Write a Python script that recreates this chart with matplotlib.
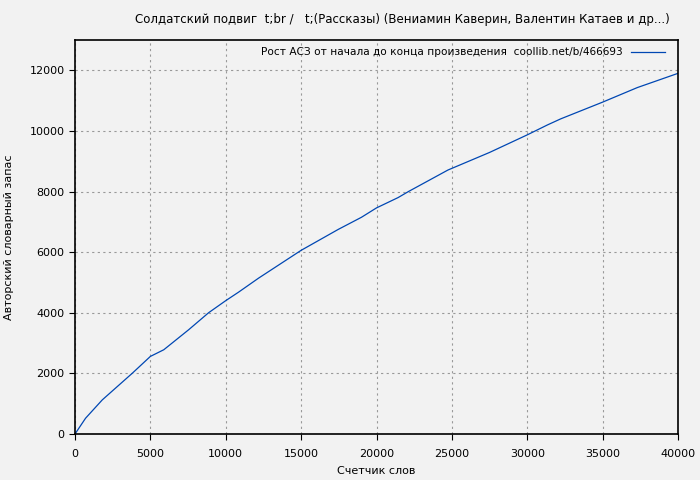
import matplotlib
matplotlib.use("Agg")
import matplotlib.pyplot as plt

words = [0, 700, 1810, 3790, 5000, 5890, 7540, 8860, 10000, 10850, 12170, 15000,
         17460, 19000, 20000, 21430, 22120, 24740, 27500, 30000, 31350, 32230,
         35000, 37300, 40000]
vocab = [0, 520, 1126, 2000, 2560, 2780, 3440, 4000, 4400, 4680, 5140, 6060,
         6750, 7150, 7460, 7800, 8000, 8710, 9290, 9870, 10200, 10400,
         10950, 11430, 11900]

title = "Солдатский подвиг  t;br /   t;(Рассказы) (Вениамин Каверин, Валентин Катаев и др...)"
label = "Рост АСЗ от начала до конца произведения  coollib.net/b/466693"

plt.rcParams['font.family'] = ['DejaVu Sans']
plt.rcParams['font.size'] = 8

fig = plt.figure(figsize=(7, 4.8), dpi=100, facecolor='#f2f2f2')
ax = fig.add_axes([75/700, 46/480, 603/700, 394/480])
ax.set_facecolor('#f2f2f2')

ax.plot(words, vocab, color='#0047b3', linewidth=0.9, label=label)

ax.set_xlim(0, 40000)
ax.set_ylim(0, 13000)
ax.set_xticks(range(0, 40001, 5000))
ax.set_yticks(range(0, 12001, 2000))
ax.grid(True, color='#999999', linestyle=(0, (2, 3)), linewidth=0.8)
ax.tick_params(direction='out', length=4, color='black')
ax.tick_params(axis='x', pad=7)
for s in ax.spines.values():
    s.set_linewidth(1.2)

ax.set_xlabel("Счетчик слов", labelpad=5)
ax.set_ylabel("Авторский словарный запас", labelpad=11)
fig.text(402/700, 1 - 19/480, title, fontsize=8.5, ha='center', va='center')

ax.legend(loc='upper right', frameon=False, markerfirst=False, handlelength=3.2,
          borderaxespad=0.3, prop={'size': 7.6}, bbox_to_anchor=(0.99, 1.0))

fig.savefig("out.png", dpi=100, facecolor=fig.get_facecolor())
